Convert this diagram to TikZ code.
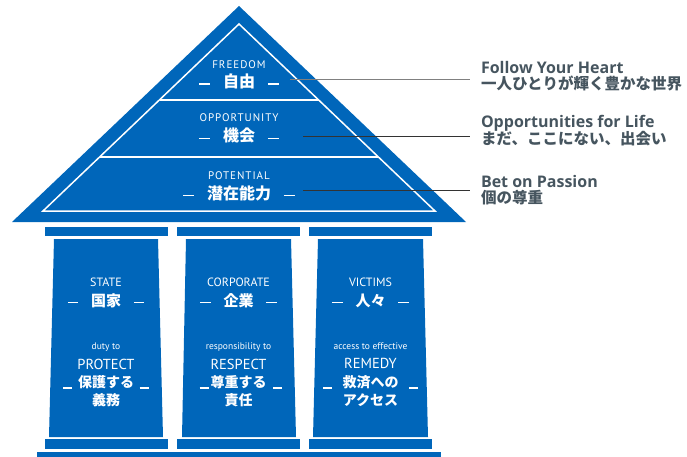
\documentclass[tikz,border=0pt]{standalone}
\usepackage{fontspec}
\setmainfont{PT Sans}
\newfontfamily\jp{Noto Sans CJK JP}
\newfontfamily\roofen{PT Sans}[LetterSpace=9]
\newfontfamily\rt{Open Sans}
\definecolor{blu}{HTML}{0066BA}
\definecolor{txt}{HTML}{46555F}
\newcommand\rdash{\rule[0.18em]{0.7em}{1.2pt}}
\newcommand\udash{\rule[-0.5pt]{9pt}{1.2pt}}
\begin{document}
\begin{tikzpicture}[x=1pt,y=-1pt,
  every node/.style={inner sep=0pt,outer sep=0pt},
  roofen/.style={text=white,anchor=base,font=\roofen\fontsize{11}{11}\selectfont},
  roofjp/.style={text=white,anchor=base,font=\jp\bfseries\fontsize{16}{16}\selectfont},
  colen/.style={text=white,anchor=base,font=\fontsize{12}{12}\selectfont},
  colsm/.style={text=white,anchor=base,font=\fontsize{9.5}{9.5}\selectfont},
  colbig/.style={text=white,anchor=base,font=\fontsize{14.5}{14.5}\selectfont},
  coljp/.style={text=white,anchor=base,font=\jp\bfseries\fontsize{15}{15}\selectfont},
  coljps/.style={text=white,anchor=base,font=\jp\bfseries\fontsize{14}{14}\selectfont},
  uline/.style={text=white,anchor=base,font=\fontsize{14}{14}\selectfont},
  righten/.style={text=txt,anchor=base west,text depth=1pt,font=\rt\bfseries\fontsize{16}{16}\selectfont},
  rightjp/.style={text=txt,anchor=base west,text height=0.8em,font=\jp\bfseries\fontsize{15.5}{15.5}\selectfont},
  leader/.style={draw=#1,line width=1pt},
  wline/.style={draw=white,line width=1.5pt}]
\useasboundingbox (0,0) rectangle (687,457);
% roof
\fill[blu] (239,6) -- (466,222) -- (12,222) -- cycle;
\draw[wline,line join=miter] (239,24) -- (435,211) -- (43,211) -- cycle;
\draw[wline] (159.5,100) -- (318.5,100);
\draw[wline] (100,157) -- (378,157);
% capitals
\foreach \a/\b in {45/168,177/300,309/432}{
  \fill[blu] (\a,227) rectangle (\b,236);
  \fill[blu] (\a,439) rectangle (\b,449);
}
% columns
\fill[blu] (54,239) -- (158,239) -- (163,437) -- (49,437) -- cycle;
\fill[blu] (186,239) -- (291,239) -- (296,437) -- (182,437) -- cycle;
\fill[blu] (318,239) -- (423,239) -- (428,437) -- (313,437) -- cycle;
% base
\fill[blu] (37,452) rectangle (441,458);
% roof texts
\node[roofen] (fr) at (239,69) {FREEDOM};
\node[roofjp] (frj) at (239,87.5) {\rdash\hspace{0.8em}自由\hspace{0.8em}\rdash};
\node[roofen] (op) at (239,122) {OPPORTUNITY};
\node[roofjp] (opj) at (239,142) {\rdash\hspace{0.8em}機会\hspace{0.8em}\rdash};
\node[roofen] (po) at (239,179) {POTENTIAL};
\node[roofjp] (poj) at (239,199) {\rdash\hspace{0.8em}潜在能力\hspace{0.8em}\rdash};
% leaders
\coordinate (l1s) at (290,80); \coordinate (l1e) at (470,80);
\coordinate (l2s) at (303,137); \coordinate (l2e) at (470,137);
\coordinate (l3s) at (303,190); \coordinate (l3e) at (470,190);
\draw[leader=gray] (l1s) -- (l1e);
\draw[leader=black!80] (l2s) -- (l2e);
\draw[leader=black!80] (l3s) -- (l3e);
% right texts
\node[righten] (r1) at (481,73.5) {Follow Your Heart};
\node[rightjp] (r1j) at (481,90) {一人ひとりが輝く豊かな世界};
\node[righten] (r2) at (481,128) {Opportunities for Life};
\node[rightjp] (r2j) at (481,145) {まだ、ここにない、出会い};
\node[righten] (r3) at (481,187) {Bet on Passion};
\node[rightjp] (r3j) at (481,203.5) {個の尊重};
% column 1
\node[colen] (c1a) at (106,286) {STATE};
\node[coljp] (c1b) at (106,306) {\rdash\hspace{0.85em}国家\hspace{0.85em}\rdash};
\node[colsm] (c1c) at (106,349) {duty to};
\node[colbig] (c1d) at (106,369) {PROTECT};
\node[coljps] (c1e) at (106,387) {保護する};
\node[coljps] (c1f) at (106,405) {義務};
\node[uline] (c1l) at (67.5,388) {\udash};
\node[uline] (c1r) at (144,388) {\udash};
% column 2
\node[colen] (c2a) at (238.5,286) {CORPORATE};
\node[coljp] (c2b) at (238.5,306) {\rdash\hspace{0.85em}企業\hspace{0.85em}\rdash};
\node[colsm] (c2c) at (238.5,349) {responsibility to};
\node[colbig] (c2d) at (238.5,369) {RESPECT};
\node[coljps] (c2e) at (238.5,387) {尊重する};
\node[coljps] (c2f) at (238.5,405) {責任};
\node[uline] (c2l) at (204,388) {\udash};
\node[uline] (c2r) at (277.5,388) {\udash};
% column 3
\node[colen] (c3a) at (370.5,286) {VICTIMS};
\node[coljp] (c3b) at (370.5,306) {\rdash\hspace{0.85em}人々\hspace{0.85em}\rdash};
\node[colsm] (c3c) at (370.5,349) {access to effective};
\node[colbig] (c3d) at (370.5,368) {REMEDY};
\node[coljps] (c3e) at (370.5,387) {救済への};
\node[coljps] (c3f) at (370.5,405) {アクセス};
\node[uline] (c3l) at (327.5,388) {\udash};
\node[uline] (c3r) at (413.5,388) {\udash};
\end{tikzpicture}
\end{document}
